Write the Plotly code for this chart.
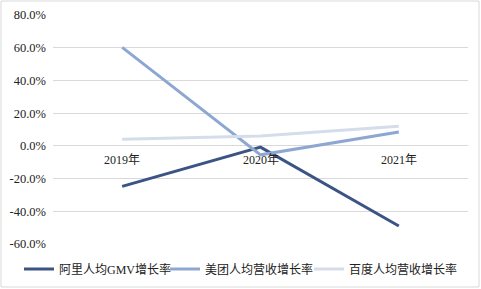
import plotly.graph_objects as go

categories = ["2019年", "2020年", "2021年"]
ali = [-24.8, -0.8, -49.0]
meituan = [60.2, -5.5, 8.5]
baidu = [4.0, 6.0, 12.0]
series_names = ["阿里人均GMV增长率", "美团人均营收增长率", "百度人均营收增长率"]
colors = ["#3C5485", "#8EA7D2", "#D5DDEA"]
y_ticks = [-60, -40, -20, 0, 20, 40, 60, 80]

L, R, T, B = 53, 13, 15, 45
W, H = 481, 289
pw, ph = W - L - R, H - T - B
FONT = "Liberation Serif, Times New Roman, Noto Sans CJK SC"
legend_ids = ["legend", "legend2", "legend3"]
legend_left_px = [19, 165, 309]

fig = go.Figure()
for name, vals, c, lg in zip(series_names, [ali, meituan, baidu], colors, legend_ids):
    fig.add_trace(go.Scatter(x=categories, y=vals, mode="lines", name=name,
                             line=dict(color=c, width=3), legend=lg))

for cat in categories:
    fig.add_annotation(x=cat, y=0, xref="x", yref="y", text=cat, showarrow=False,
                       yshift=-14, font=dict(size=12, color="#222", family=FONT))

fig.add_shape(type="rect", xref="paper", yref="paper",
              x0=(1 - L) / pw, x1=(W - 2 - L) / pw,
              y0=(H - B - (H - 2)) / ph, y1=(H - B - 1) / ph,
              line=dict(color="#D9D9D9", width=1), fillcolor="rgba(0,0,0,0)")

leg_common = dict(orientation="h", xanchor="left", xref="container",
                  yref="container", y=(H - 269) / H, yanchor="middle",
                  font=dict(size=12, color="#222", family=FONT),
                  itemwidth=30, bgcolor="rgba(0,0,0,0)")
legends = {lg: dict(leg_common, x=px / W) for lg, px in zip(legend_ids, legend_left_px)}

fig.update_layout(
    width=W, height=H,
    margin=dict(l=L, r=R, t=T, b=B, autoexpand=False),
    plot_bgcolor="white", paper_bgcolor="white",
    font=dict(family=FONT, size=12, color="#222"),
    xaxis=dict(showticklabels=False, showgrid=False, zeroline=False, showline=False,
               range=[-0.5, 2.5]),
    yaxis=dict(range=[-60, 80], tickvals=y_ticks,
               ticktext=[f"{v:.1f}%" for v in y_ticks],
               showgrid=True, gridcolor="#D9D9D9", gridwidth=1,
               zeroline=False, showline=False, ticks="", ticklabelstandoff=6,
               tickfont=dict(size=12.5, family=FONT)),
    showlegend=True,
    **legends,
)

fig.write_html("out.html")
